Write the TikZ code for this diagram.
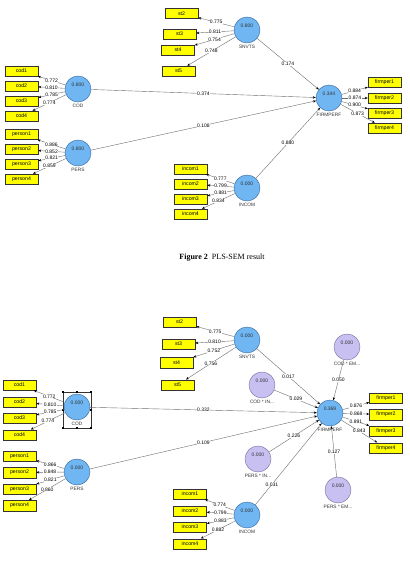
\documentclass[tikz,border=0pt]{standalone}
\usepackage{fontspec}
\setmainfont{Liberation Serif}
\newfontfamily\plsfont{Liberation Sans}
\usetikzlibrary{arrows.meta}
\definecolor{latfill}{HTML}{6FB6F2}
\definecolor{latdraw}{HTML}{3A6EA5}
\definecolor{modfill}{HTML}{C9C0F2}
\definecolor{moddraw}{HTML}{7F74A8}
\definecolor{indfill}{HTML}{FFFF00}
\definecolor{lnc}{HTML}{6E6E6E}
\begin{document}
\begin{tikzpicture}[x=1pt,y=-1pt,
  lat/.style={circle,draw=latdraw,fill=latfill,line width=0.45pt,minimum size=26pt,inner sep=0pt},
  modv/.style={lat,draw=moddraw,fill=modfill},
  ind/.style={rectangle,draw=black!80,fill=indfill,line width=0.5pt,minimum width=33pt,minimum height=10pt,inner sep=0pt,font=\plsfont\fontsize{5.2}{6}\selectfont},
  val/.style={font=\plsfont\fontsize{5}{6}\selectfont,text=black!80,inner sep=0pt},
  nm/.style={font=\plsfont\fontsize{4.8}{6}\selectfont,text=black!80,inner sep=0.5pt},
  conn/.style={draw=lnc,line width=0.4pt,-{Stealth[length=3pt,width=2.4pt,black]}},
  cf/.style={font=\plsfont\fontsize{5}{6}\selectfont,inner sep=0.3pt,fill=white,pos=0.5},
  every label/.style={label distance=1.2pt},
  handle/.style={rectangle,fill=black,minimum size=2pt,inner sep=0pt},
]
\useasboundingbox (0,0) rectangle (409,564);
\fill[white] (0,0) rectangle (409,564);

% ================= TOP DIAGRAM =================
\node[lat,label={[nm]below:COD},label={[val,yshift=4pt]center:0.800}] (tCOD) at (78,89) {};
\node[lat,label={[nm]below:PERS},label={[val,yshift=4pt]center:0.800}] (tPERS) at (78,153) {};
\node[lat,label={[nm]below:SNVTS},label={[val,yshift=4pt]center:0.800}] (tSN) at (247,30) {};
\node[lat,label={[nm]below:FIRMPERF},label={[val,yshift=4pt]center:0.344}] (tFP) at (329,98) {};
\node[lat,label={[nm]below:INCOM},label={[val,yshift=4pt]center:0.000}] (tINC) at (247,188) {};

\node[ind] (tcod1) at (21.5,71) {cod1};
\node[ind] (tcod2) at (21.5,86) {cod2};
\node[ind] (tcod3) at (21.5,101) {cod3};
\node[ind] (tcod4) at (21.5,116) {cod4};
\node[ind] (tper1) at (21.5,134.5) {person1};
\node[ind] (tper2) at (21.5,149.5) {person2};
\node[ind] (tper3) at (21.5,164) {person3};
\node[ind] (tper4) at (21.5,179) {person4};
\node[ind] (tst2) at (181.5,13.5) {st2};
\node[ind] (tst3) at (179.5,34) {st3};
\node[ind] (tst4) at (178,50) {st4};
\node[ind] (tst5) at (178.5,71) {st5};
\node[ind] (tinc1) at (190.5,169) {incom1};
\node[ind] (tinc2) at (190.5,184) {incom2};
\node[ind] (tinc3) at (190.5,199) {incom3};
\node[ind] (tinc4) at (190.5,214) {incom4};
\node[ind] (tfp1) at (384.5,82.5) {firmper1};
\node[ind] (tfp2) at (384.5,98) {firmper2};
\node[ind] (tfp3) at (384.5,113.5) {firmper3};
\node[ind] (tfp4) at (384.5,128) {firmper4};

\draw[conn] (tCOD) -- node[cf]{0.772} (tcod1);
\draw[conn] (tCOD) -- node[cf]{0.810} (tcod2);
\draw[conn] (tCOD) -- node[cf]{0.785} (tcod3);
\draw[conn] (tCOD) -- node[cf]{0.774} (tcod4);
\draw[conn] (tPERS) -- node[cf]{0.886} (tper1);
\draw[conn] (tPERS) -- node[cf]{0.852} (tper2);
\draw[conn] (tPERS) -- node[cf]{0.821} (tper3);
\draw[conn] (tPERS) -- node[cf]{0.859} (tper4);
\draw[conn] (tSN) -- node[cf]{0.775} (tst2);
\draw[conn] (tSN) -- node[cf]{0.811} (tst3);
\draw[conn] (tSN) -- node[cf]{0.754} (tst4);
\draw[conn] (tSN) -- node[cf]{0.748} (tst5);
\draw[conn] (tINC) -- node[cf]{0.777} (tinc1);
\draw[conn] (tINC) -- node[cf]{0.799} (tinc2);
\draw[conn] (tINC) -- node[cf]{0.881} (tinc3);
\draw[conn] (tINC) -- node[cf]{0.834} (tinc4);
\draw[conn] (tFP) -- node[cf]{0.884} (tfp1);
\draw[conn] (tFP) -- node[cf]{0.874} (tfp2);
\draw[conn] (tFP) -- node[cf]{0.900} (tfp3);
\draw[conn] (tFP) -- node[cf]{0.873} (tfp4);

\draw[conn] (tSN) -- node[cf]{0.174} (tFP);
\draw[conn] (tCOD) -- node[cf]{0.374} (tFP);
\draw[conn] (tPERS) -- node[cf]{0.108} (tFP);
\draw[conn] (tINC) -- node[cf]{0.880} (tFP);

\node[font=\fontsize{8}{9.5}\selectfont,inner sep=0pt] (cap) at (222,258) {\textbf{Figure 2}\enspace PLS-SEM result};

% ================= BOTTOM DIAGRAM =================
\node[lat,label={[nm]below:COD},label={[val,yshift=4pt]center:0.000}] (bCOD) at (77,407) {};
\node[lat,label={[nm]below:PERS},label={[val,yshift=4pt]center:0.000}] (bPERS) at (77,472) {};
\node[lat,label={[nm]below:SNVTS},label={[val,yshift=4pt]center:0.000}] (bSN) at (247,340) {};
\node[modv,label={[nm]below:COD * IN...},label={[val,yshift=4pt]center:0.000}] (bCI) at (262,385) {};
\node[modv,label={[nm]below:COD * EM...},label={[val,yshift=4pt]center:0.000}] (bCE) at (347,347) {};
\node[lat,label={[nm]below:FIRMPERF},label={[val,yshift=4pt]center:0.369}] (bFP) at (330,413) {};
\node[modv,label={[nm]below:PERS * IN...},label={[val,yshift=4pt]center:0.000}] (bPI) at (258,459) {};
\node[modv,label={[nm]below:PERS * EM...},label={[val,yshift=4pt]center:0.000}] (bPE) at (338,490) {};
\node[lat,label={[nm]below:INCOM},label={[val,yshift=4pt]center:0.000}] (bINC) at (247,515) {};

% selection frame on COD
\draw[black!80,line width=0.3pt] (63,392) rectangle (91,428);
\foreach \hx/\hy in {63/392,77/392,91/392,63/410,91/410,63/428,77/428,91/428}
  \node[handle] at (\hx,\hy) {};

\node[ind,minimum height=10.5pt] (bcod1) at (19.5,385) {cod1};
\node[ind,minimum height=10.5pt] (bcod2) at (19.5,402) {cod2};
\node[ind,minimum height=10.5pt] (bcod3) at (19.5,418) {cod3};
\node[ind,minimum height=10.5pt] (bcod4) at (19.5,435) {cod4};
\node[ind,minimum height=10.5pt] (bper1) at (19.5,456) {person1};
\node[ind,minimum height=10.5pt] (bper2) at (19.5,472.5) {person2};
\node[ind,minimum height=10.5pt] (bper3) at (19.5,489) {person3};
\node[ind,minimum height=10.5pt] (bper4) at (19.5,505.5) {person4};
\node[ind,minimum height=10.5pt] (bst2) at (179.5,322) {st2};
\node[ind,minimum height=10.5pt] (bst3) at (178.5,344) {st3};
\node[ind,minimum height=10.5pt] (bst4) at (176.5,362.5) {st4};
\node[ind,minimum height=10.5pt] (bst5) at (177.5,385) {st5};
\node[ind,minimum height=10.5pt] (binc1) at (190,494) {incom1};
\node[ind,minimum height=10.5pt] (binc2) at (190,511) {incom2};
\node[ind,minimum height=10.5pt] (binc3) at (190,527) {incom3};
\node[ind,minimum height=10.5pt] (binc4) at (190,544) {incom4};
\node[ind,minimum height=10.5pt] (bfp1) at (386,398) {firmper1};
\node[ind,minimum height=10.5pt] (bfp2) at (386,414.5) {firmper2};
\node[ind,minimum height=10.5pt] (bfp3) at (386,431) {firmper3};
\node[ind,minimum height=10.5pt] (bfp4) at (386,448) {firmper4};

\draw[conn] (bCOD) -- node[cf]{0.772} (bcod1);
\draw[conn] (bCOD) -- node[cf]{0.810} (bcod2);
\draw[conn] (bCOD) -- node[cf]{0.785} (bcod3);
\draw[conn] (bCOD) -- node[cf]{0.774} (bcod4);
\draw[conn] (bPERS) -- node[cf]{0.866} (bper1);
\draw[conn] (bPERS) -- node[cf]{0.848} (bper2);
\draw[conn] (bPERS) -- node[cf]{0.821} (bper3);
\draw[conn] (bPERS) -- node[cf]{0.860} (bper4);
\draw[conn] (bSN) -- node[cf]{0.775} (bst2);
\draw[conn] (bSN) -- node[cf]{0.810} (bst3);
\draw[conn] (bSN) -- node[cf]{0.752} (bst4);
\draw[conn] (bSN) -- node[cf]{0.756} (bst5);
\draw[conn] (bINC) -- node[cf]{0.774} (binc1);
\draw[conn] (bINC) -- node[cf]{0.799} (binc2);
\draw[conn] (bINC) -- node[cf]{0.883} (binc3);
\draw[conn] (bINC) -- node[cf]{0.882} (binc4);
\draw[conn] (bFP) -- node[cf]{0.876} (bfp1);
\draw[conn] (bFP) -- node[cf]{0.868} (bfp2);
\draw[conn] (bFP) -- node[cf]{0.891} (bfp3);
\draw[conn] (bFP) -- node[cf]{0.843} (bfp4);

\draw[conn] (bSN) -- node[cf]{0.017} (bFP);
\draw[conn] (bCOD) -- node[cf]{0.332} (bFP);
\draw[conn] (bPERS) -- node[cf]{0.109} (bFP);
\draw[conn] (bCI) -- node[cf]{0.029} (bFP);
\draw[conn] (bCE) -- node[cf]{0.050} (bFP);
\draw[conn] (bPI) -- node[cf]{0.226} (bFP);
\draw[conn] (bINC) -- node[cf,pos=0.25]{0.031} (bFP);
\draw[conn] (bPE) -- node[cf]{0.127} (bFP);
\end{tikzpicture}
\end{document}
